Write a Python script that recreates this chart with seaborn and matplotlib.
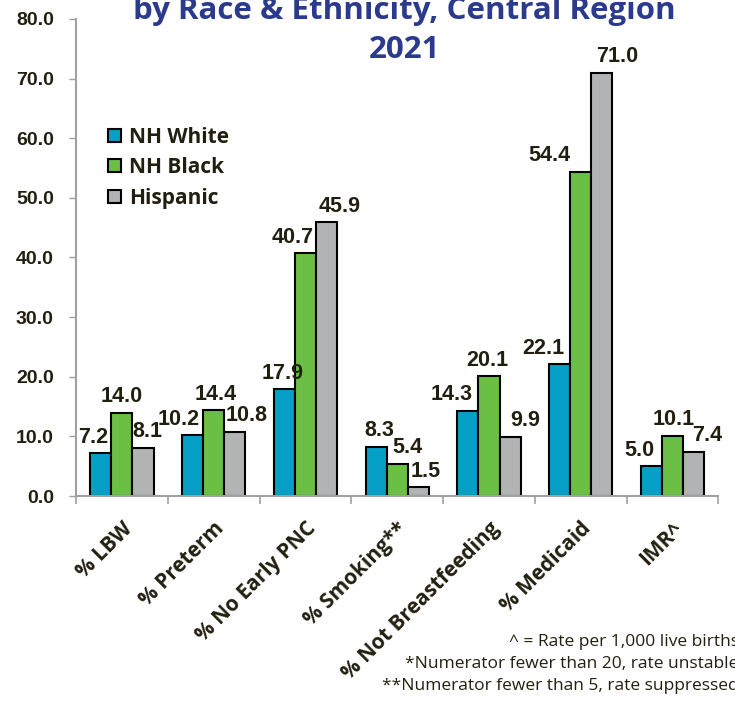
import pandas as pd
import matplotlib.pyplot as plt
import seaborn as sns

# data
indicators = ["% LBW", "% Preterm", "% No Early PNC", "% Smoking**",
              "% Not Breastfeeding", "% Medicaid", "IMR^"]
groups = ["NH White", "NH Black", "Hispanic"]
nh_white = [7.2, 10.2, 17.9, 8.3, 14.3, 22.1, 5.0]
nh_black = [14.0, 14.4, 40.7, 5.4, 20.1, 54.4, 10.1]
hispanic = [8.1, 10.8, 45.9, 1.5, 9.9, 71.0, 7.4]
y_ticks = [0, 10, 20, 30, 40, 50, 60, 70, 80]
footnotes = ["^ = Rate per 1,000 live births",
             "*Numerator fewer than 20, rate unstable",
             "**Numerator fewer than 5, rate suppressed"]

# horizontal nudges (px) of the value labels, per group, as in the original
label_dx = {
    "NH White": [-8, -14, -2, 3, -16, -16, -12],
    "NH Black": [0, 2, -13, 10, -2, -31, 1],
    "Hispanic": [4, 12, 13, 7, 15, 15, 14],
}

colors = ["#06a0c6", "#6abf44", "#b2b3b5"]
text_col = "#231f10"
title_col = "#2b3a8c"

df = pd.DataFrame({
    "indicator": indicators * 3,
    "group": [g for g in groups for _ in indicators],
    "value": nh_white + nh_black + hispanic,
})

sns.set_theme(style="white")
plt.rcParams["font.family"] = ["Liberation Sans", "DejaVu Sans"]

fig = plt.figure(figsize=(7.35, 7.01), dpi=100)
ax = fig.add_axes([0.1034, 0.2924, 0.874, 0.6806])

sns.barplot(data=df, x="indicator", y="value", hue="group", order=indicators,
            hue_order=groups, palette=colors, width=0.69, gap=0,
            edgecolor="black", linewidth=1.5, saturation=1, ax=ax)

# value labels on top of bars
for cont, g in zip(ax.containers, groups):
    for bar, dx in zip(cont, label_dx[g]):
        h = bar.get_height()
        ax.annotate(f"{h:.1f}", (bar.get_x() + bar.get_width() / 2, h),
                    xytext=(dx * 0.72, 4), textcoords="offset points",
                    ha="center", va="bottom", fontsize=15.5,
                    fontweight="bold", color=text_col)

ax.set_ylim(0, 80)
ax.set_xlim(-0.5, len(indicators) - 0.5)
ax.set_yticks(y_ticks)
ax.set_yticklabels([f"{v:.1f}" for v in y_ticks], fontsize=14,
                   fontweight="bold", color=text_col)
ax.tick_params(axis="y", left=True, length=5, width=1, color="#a0a0a0", pad=11)

# category labels at centers, tick marks between categories
ax.set_xticks(range(len(indicators)))
ax.set_xticklabels(indicators, rotation=45, ha="right", rotation_mode="anchor",
                   fontsize=15, fontweight="bold", color=text_col,
                   family="Open Sans")
ax.tick_params(axis="x", which="major", bottom=False, length=0, pad=16)
ax.set_xticks([i - 0.5 for i in range(len(indicators) + 1)], minor=True)
ax.tick_params(axis="x", which="minor", bottom=True, length=6, width=1.2,
               color="#a0a0a0")

ax.set_xlabel("")
ax.set_ylabel("")
for side in ["top", "right"]:
    ax.spines[side].set_visible(False)
for side in ["left", "bottom"]:
    ax.spines[side].set_color("#a0a0a0")
    ax.spines[side].set_linewidth(1.5)

leg = ax.legend(loc="upper left", bbox_to_anchor=(0.05, 0.774), frameon=False,
                borderpad=0, borderaxespad=0,
                handlelength=0.6, handleheight=0.6, handletextpad=0.4,
                labelspacing=0.45,
                prop={"family": "Open Sans", "weight": "bold", "size": 15})
for t in leg.get_texts():
    t.set_color(text_col)

# title (top line cut off in the reference)
fig.text(0.55, 0.9725, "by Race & Ethnicity, Central Region", ha="center",
         va="baseline", fontsize=22.5, fontweight="bold", color=title_col,
         family="Open Sans")
fig.text(0.55, 0.9173, "2021", ha="center", va="baseline", fontsize=22.5,
         fontweight="bold", color=title_col, family="Open Sans")

# footnotes, right aligned and running off the right edge
for i, line in enumerate(footnotes):
    fig.text(1.005, 0.0845 - i * 0.0314, line, ha="right", va="center",
             fontsize=12.5, color=text_col, family="Open Sans")

fig.savefig("out.png", dpi=100)
